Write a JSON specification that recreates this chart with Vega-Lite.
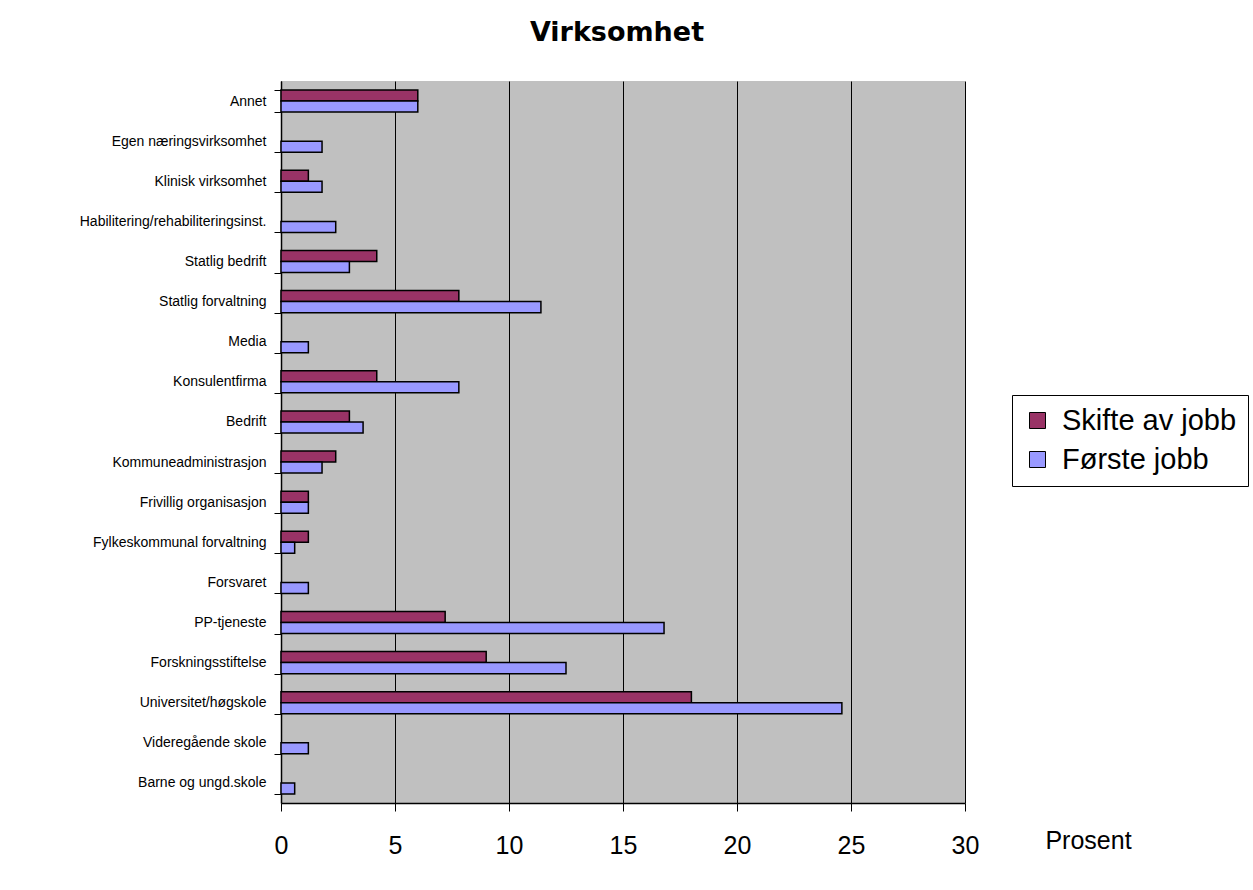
{
  "$schema": "https://vega.github.io/schema/vega-lite/v6.json",
  "autosize": {"type": "none"},
  "width": 684,
  "height": 722,
  "padding": {"left": 281, "top": 81, "right": 288, "bottom": 87},
  "background": "white",
  "title": {
    "text": "Virksomhet",
    "font": "DejaVu Sans",
    "fontSize": 27,
    "fontWeight": "bold",
    "color": "black",
    "anchor": "middle",
    "offset": 27,
    "dx": -6
  },
  "data": {
    "values": [
      {"kategori": "Annet", "serie": "Skifte av jobb", "prosent": 6.0},
      {"kategori": "Annet", "serie": "Første jobb", "prosent": 6.0},
      {"kategori": "Egen næringsvirksomhet", "serie": "Første jobb", "prosent": 1.8},
      {"kategori": "Klinisk virksomhet", "serie": "Skifte av jobb", "prosent": 1.2},
      {"kategori": "Klinisk virksomhet", "serie": "Første jobb", "prosent": 1.8},
      {"kategori": "Habilitering/rehabiliteringsinst.", "serie": "Første jobb", "prosent": 2.4},
      {"kategori": "Statlig bedrift", "serie": "Skifte av jobb", "prosent": 4.2},
      {"kategori": "Statlig bedrift", "serie": "Første jobb", "prosent": 3.0},
      {"kategori": "Statlig forvaltning", "serie": "Skifte av jobb", "prosent": 7.8},
      {"kategori": "Statlig forvaltning", "serie": "Første jobb", "prosent": 11.4},
      {"kategori": "Media", "serie": "Første jobb", "prosent": 1.2},
      {"kategori": "Konsulentfirma", "serie": "Skifte av jobb", "prosent": 4.2},
      {"kategori": "Konsulentfirma", "serie": "Første jobb", "prosent": 7.8},
      {"kategori": "Bedrift", "serie": "Skifte av jobb", "prosent": 3.0},
      {"kategori": "Bedrift", "serie": "Første jobb", "prosent": 3.6},
      {"kategori": "Kommuneadministrasjon", "serie": "Skifte av jobb", "prosent": 2.4},
      {"kategori": "Kommuneadministrasjon", "serie": "Første jobb", "prosent": 1.8},
      {"kategori": "Frivillig organisasjon", "serie": "Skifte av jobb", "prosent": 1.2},
      {"kategori": "Frivillig organisasjon", "serie": "Første jobb", "prosent": 1.2},
      {"kategori": "Fylkeskommunal forvaltning", "serie": "Skifte av jobb", "prosent": 1.2},
      {"kategori": "Fylkeskommunal forvaltning", "serie": "Første jobb", "prosent": 0.6},
      {"kategori": "Forsvaret", "serie": "Første jobb", "prosent": 1.2},
      {"kategori": "PP-tjeneste", "serie": "Skifte av jobb", "prosent": 7.2},
      {"kategori": "PP-tjeneste", "serie": "Første jobb", "prosent": 16.8},
      {"kategori": "Forskningsstiftelse", "serie": "Skifte av jobb", "prosent": 9.0},
      {"kategori": "Forskningsstiftelse", "serie": "Første jobb", "prosent": 12.5},
      {"kategori": "Universitet/høgskole", "serie": "Skifte av jobb", "prosent": 18.0},
      {"kategori": "Universitet/høgskole", "serie": "Første jobb", "prosent": 24.6},
      {"kategori": "Videregående skole", "serie": "Første jobb", "prosent": 1.2},
      {"kategori": "Barne og ungd.skole", "serie": "Første jobb", "prosent": 0.6}
    ]
  },
  "mark": {"type": "bar", "stroke": "black", "strokeWidth": 1.5},
  "encoding": {
    "y": {
      "field": "kategori",
      "type": "nominal",
      "scale": {
        "domain": ["Annet", "Egen næringsvirksomhet", "Klinisk virksomhet", "Habilitering/rehabiliteringsinst.", "Statlig bedrift", "Statlig forvaltning", "Media", "Konsulentfirma", "Bedrift", "Kommuneadministrasjon", "Frivillig organisasjon", "Fylkeskommunal forvaltning", "Forsvaret", "PP-tjeneste", "Forskningsstiftelse", "Universitet/høgskole", "Videregående skole", "Barne og ungd.skole"],
        "paddingInner": 0.45,
        "paddingOuter": 0.225
      },
      "axis": {
        "title": null,
        "labelFont": "Liberation Sans",
        "labelFontSize": 14,
        "labelColor": "black",
        "labelPadding": 8,
        "labelLimit": 300,
        "ticks": true,
        "tickSize": 7,
        "tickWidth": 1,
        "tickColor": "black",
        "tickBand": "extent",
        "domainColor": "black",
        "domainWidth": 1.5,
        "grid": false
      }
    },
    "yOffset": {
      "field": "serie",
      "type": "nominal",
      "scale": {"domain": ["Skifte av jobb", "Første jobb"], "paddingInner": 0, "paddingOuter": 0}
    },
    "x": {
      "field": "prosent",
      "type": "quantitative",
      "scale": {"domain": [0, 30], "nice": false},
      "axis": {
        "values": [0, 5, 10, 15, 20, 25, 30],
        "title": "Prosent",
        "titleFont": "Liberation Sans",
        "titleFontSize": 25,
        "titleFontWeight": "normal",
        "titleColor": "black",
        "titleX": 807,
        "titleY": 45,
        "titleAlign": "center",
        "titleBaseline": "alphabetic",
        "labelFont": "Liberation Sans",
        "labelFontSize": 25,
        "labelColor": "black",
        "labelPadding": 22,
        "labelFlush": false,
        "tickSize": 8,
        "tickColor": "black",
        "domainColor": "black",
        "domainWidth": 1.5,
        "grid": true,
        "gridColor": "black",
        "gridWidth": 1,
        "gridOpacity": 1
      }
    },
    "fill": {
      "field": "serie",
      "type": "nominal",
      "scale": {"domain": ["Skifte av jobb", "Første jobb"], "range": ["#993366", "#9999FF"]},
      "legend": {
        "title": null,
        "orient": "none",
        "legendX": 731,
        "legendY": 314,
        "symbolType": "square",
        "symbolSize": 256,
        "symbolStrokeColor": "black",
        "symbolStrokeWidth": 1,
        "symbolOpacity": 1,
        "labelFont": "Liberation Sans",
        "labelFontSize": 29,
        "labelColor": "black",
        "labelLimit": 300,
        "labelOffset": 10,
        "rowPadding": 9,
        "padding": 11,
        "strokeColor": "black",
        "fillColor": "white"
      }
    }
  },
  "config": {
    "view": {"fill": "#C0C0C0", "stroke": null},
    "axis": {"gridDash": []}
  }
}
